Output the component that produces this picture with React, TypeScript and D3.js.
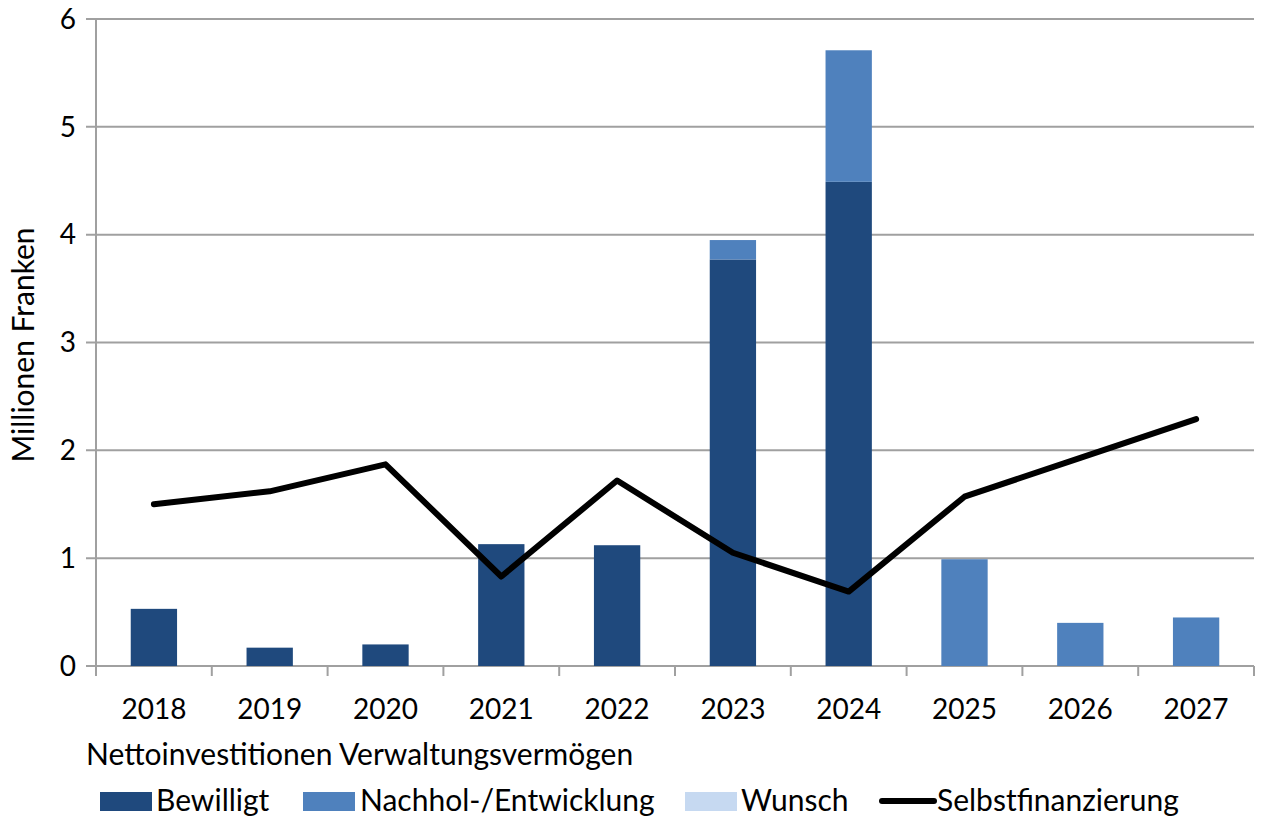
import React from "react";
import * as d3 from "d3";

const years = ["2018", "2019", "2020", "2021", "2022", "2023", "2024", "2025", "2026", "2027"];
const bewilligt = [0.53, 0.17, 0.2, 1.13, 1.12, 3.77, 4.49, 0, 0, 0];
const nachhol = [0, 0, 0, 0, 0, 0.18, 1.22, 0.99, 0.4, 0.45];
const wunsch = [0, 0, 0, 0, 0, 0, 0, 0, 0, 0];
const selbst = [1.5, 1.62, 1.87, 0.83, 1.72, 1.05, 0.69, 1.57, 1.93, 2.29];
const yTicks = [0, 1, 2, 3, 4, 5, 6];

const colors = { bew: "#1F497D", nach: "#4F81BD", wun: "#C6D9F1", line: "#000000", grid: "#A0A0A0" };
const FONT = "Lato, 'Noto Sans', sans-serif";
const TICK = 28;
const LAB = 30;

export default function App() {
  const W = 1264, H = 821;
  const left = 96, right = 1254, top = 19, bottom = 666;
  const x = d3.scaleBand().domain(years).range([left, right]).paddingInner(0.6).paddingOuter(0.3);
  const xb = d3.scaleBand().domain(years).range([left, right]);
  const y = d3.scaleLinear().domain([0, 6]).range([bottom, top]);
  const stack = d3.stack<any>().keys(["bew", "nach", "wun"])(
    years.map((yr, i) => ({ yr, bew: bewilligt[i], nach: nachhol[i], wun: wunsch[i] }))
  );
  const fills = [colors.bew, colors.nach, colors.wun];
  const line = d3
    .line<number>()
    .x((_, i) => (xb(years[i]) as number) + xb.bandwidth() / 2)
    .y((d) => y(d));

  return (
    <svg width={W} height={H} style={{ position: "absolute", left: 0, top: 0, background: "#fff" }}>
      {yTicks.map((t) => (
        <g key={t}>
          <line x1={86} x2={right} y1={y(t)} y2={y(t)} stroke={colors.grid} strokeWidth={2} />
          <text x={76} y={y(t)} dy="0.35em" textAnchor="end" fontFamily={FONT} fontSize={TICK} fill="#000">
            {t}
          </text>
        </g>
      ))}
      <line x1={left} x2={left} y1={top} y2={bottom} stroke={colors.grid} strokeWidth={2} />
      {years.concat(["end"]).map((yr, i) => {
        const xx = left + i * xb.bandwidth();
        return <line key={yr} x1={xx} x2={xx} y1={bottom} y2={bottom + 10} stroke={colors.grid} strokeWidth={2} />;
      })}
      {stack.map((s, si) =>
        s.map((d, i) =>
          d[1] - d[0] > 0 ? (
            <rect
              key={si + "-" + i}
              x={x(years[i])}
              width={x.bandwidth()}
              y={y(d[1])}
              height={y(d[0]) - y(d[1])}
              fill={fills[si]}
            />
          ) : null
        )
      )}
      <path d={line(selbst) || ""} fill="none" stroke={colors.line} strokeWidth={6} strokeLinejoin="round" strokeLinecap="round" />
      {years.map((yr) => (
        <text key={yr} x={(xb(yr) as number) + xb.bandwidth() / 2} y={719} textAnchor="middle" fontFamily={FONT} fontSize={TICK}>
          {yr}
        </text>
      ))}
      <text transform="translate(34,345) rotate(-90)" textAnchor="middle" fontFamily={FONT} fontSize={LAB}>
        Millionen Franken
      </text>
      <text x={86} y={765} fontFamily={FONT} fontSize={LAB}>
        Nettoinvestitionen Verwaltungsvermögen
      </text>
      <rect x={100} y={792} width={52} height={19} fill={colors.bew} />
      <text x={156} y={811} fontFamily={FONT} fontSize={LAB}>Bewilligt</text>
      <rect x={303} y={792} width={52} height={19} fill={colors.nach} />
      <text x={360} y={811} fontFamily={FONT} fontSize={LAB}>Nachhol-/Entwicklung</text>
      <rect x={685} y={792} width={52} height={19} fill={colors.wun} />
      <text x={741} y={811} fontFamily={FONT} fontSize={LAB}>Wunsch</text>
      <line x1={882} x2={934} y1={801} y2={801} stroke={colors.line} strokeWidth={6} strokeLinecap="round" />
      <text x={937} y={811} fontFamily={FONT} fontSize={LAB}>Selbstfinanzierung</text>
    </svg>
  );
}
